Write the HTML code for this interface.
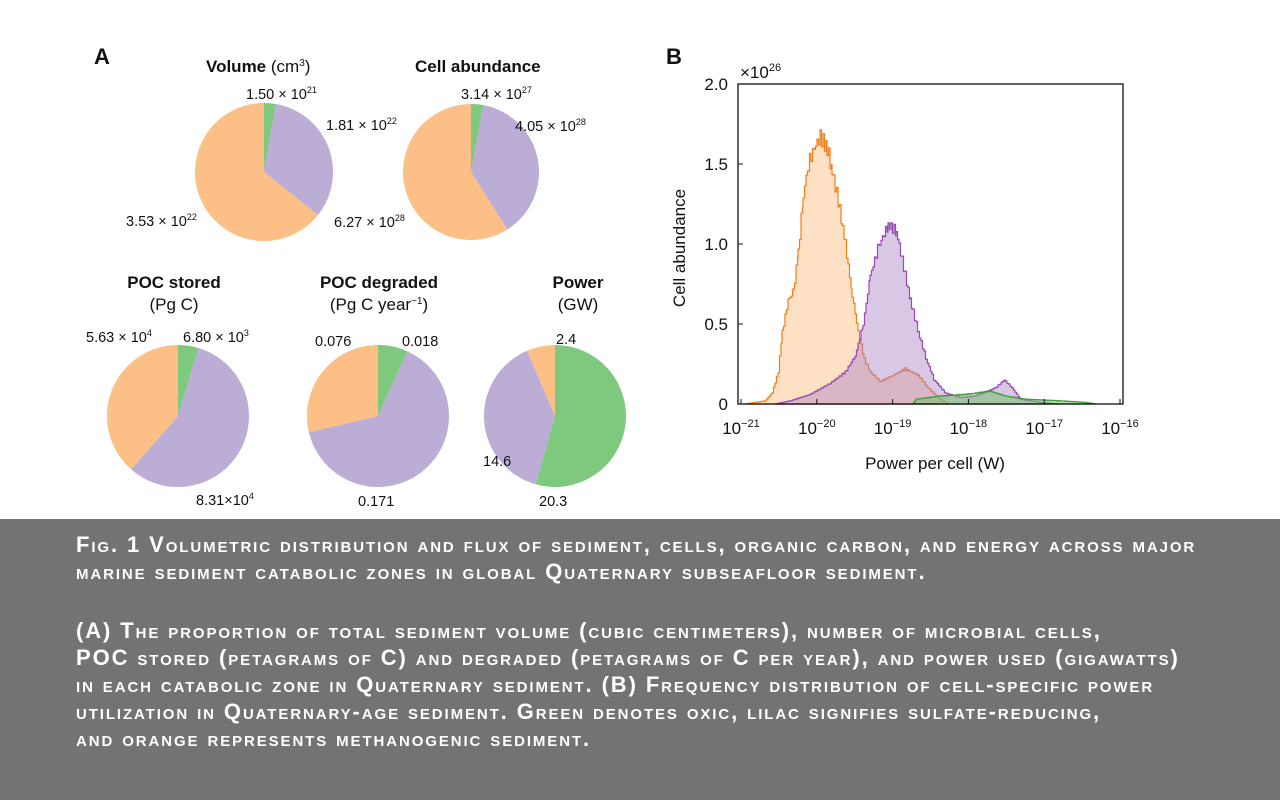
<!DOCTYPE html>
<html><head><meta charset="utf-8"><style>
body{margin:0;width:1280px;height:800px;background:#fff;position:relative;overflow:hidden;font-family:"Liberation Sans",Arial,sans-serif}
#cap{position:absolute;left:0;top:519px;width:1280px;height:281px;background:#737373;color:#fff}
#cap div{position:absolute;left:76px;font-size:22px;font-variant:small-caps;font-weight:bold;letter-spacing:1.9px;white-space:nowrap;font-family:"Liberation Sans Narrow","Liberation Sans",sans-serif}
</style></head><body>
<svg id="s" width="1280" height="519" style="position:absolute;left:0;top:0" font-family="Liberation Sans, Arial, sans-serif"></svg>
<div id="cap">
<div style="top:13px">Fig. 1 Volumetric distribution and flux of sediment, cells, organic carbon, and energy across major</div>
<div style="top:40px">marine sediment catabolic zones in global Quaternary subseafloor sediment.</div>
<div style="top:99px">(A) The proportion of total sediment volume (cubic centimeters), number of microbial cells,</div>
<div style="top:126px">POC stored (petagrams of C) and degraded (petagrams of C per year), and power used (gigawatts)</div>
<div style="top:153px">in each catabolic zone in Quaternary sediment. (B) Frequency distribution of cell-specific power</div>
<div style="top:180px">utilization in Quaternary-age sediment. Green denotes oxic, lilac signifies sulfate-reducing,</div>
<div style="top:207px">and orange represents methanogenic sediment.</div>
</div>
<script>
const G='#7fc97f',L='#bbadd6',O='#fcc086';
let h='';
function pie(cx,cy,r,vals){let t=vals.reduce((a,b)=>a+b[0],0),a=0;
for(const [v,c] of vals){let a2=a+v/t*2*Math.PI;
let x1=cx+r*Math.sin(a),y1=cy-r*Math.cos(a),x2=cx+r*Math.sin(a2),y2=cy-r*Math.cos(a2);
h+=`<path d="M${cx},${cy}L${x1},${y1}A${r},${r} 0 ${a2-a>Math.PI?1:0} 1 ${x2},${y2}Z" fill="${c}"/>`;a=a2;}}
function tx(x,y,s,o={}){h+=`<text x="${x}" y="${y}" font-size="${o.fs||14.5}" ${o.b?'font-weight="bold"':''} text-anchor="${o.a||'start'}" fill="#111">${s}</text>`}
const sup=e=>`<tspan font-size="9" dy="-6">${e}</tspan>`;
tx(94,64,'A',{fs:22,b:1});tx(666,64,'B',{fs:22,b:1});
pie(264,172,69,[[1.5e21,G],[1.81e22,L],[3.53e22,O]]);
pie(471,172,68,[[3.14e27,G],[4.05e28,L],[6.27e28,O]]);
pie(178,416,71,[[6.8e3,G],[8.31e4,L],[5.63e4,O]]);
pie(378,416,71,[[0.018,G],[0.171,L],[0.076,O]]);
pie(555,416,71,[[20.3,G],[14.6,L],[2.4,O]]);
tx(206,72,'Volume <tspan font-weight="normal">(cm</tspan><tspan font-weight="normal" font-size="10" dy="-6">3</tspan><tspan font-weight="normal" dy="6">)</tspan>',{fs:17,b:1});
tx(415,72,'Cell abundance',{fs:17,b:1});
tx(246,99,'1.50 × 10'+sup(21));tx(326,130,'1.81 × 10'+sup(22));tx(126,226,'3.53 × 10'+sup(22));
tx(461,99,'3.14 × 10'+sup(27));tx(515,131,'4.05 × 10'+sup(28));tx(334,227,'6.27 × 10'+sup(28));
tx(174,288,'POC stored',{fs:17,b:1,a:'middle'});tx(174,310,'(Pg C)',{fs:17,a:'middle'});
tx(379,288,'POC degraded',{fs:17,b:1,a:'middle'});tx(379,310,'(Pg C year<tspan font-size="10" dy="-6">−1</tspan><tspan dy="6">)</tspan>',{fs:17,a:'middle'});
tx(578,288,'Power',{fs:17,b:1,a:'middle'});tx(578,310,'(GW)',{fs:17,a:'middle'});
tx(86,342,'5.63 × 10'+sup(4));tx(183,342,'6.80 × 10'+sup(3));tx(196,505,'8.31×10'+sup(4));
tx(315,346,'0.076');tx(402,346,'0.018');tx(358,506,'0.171');
tx(556,344,'2.4');tx(483,466,'14.6');tx(539,506,'20.3');
const X0=738,Y0=404,K=160;
function area(pts,fill,stroke){let d=`M${pts[0][0]},${Y0}`;
let sp=[];for(let i=0;i<pts.length-1;i++){let [xa,va]=pts[i],[xb,vb]=pts[i+1];for(let x=xa;x<xb;x+=1.5){let v=va+(vb-va)*(x-xa)/(xb-xa);v*=1+0.03*Math.sin(x*2.3);sp.push([x,v]);}}
sp.push(pts[pts.length-1]);
for(let i=0;i<sp.length;i++){let y=Y0-sp[i][1]*K;d+=`L${sp[i][0]},${y}`;if(i<sp.length-1)d+=`L${sp[i+1][0]},${y}`;}
d+=`L${sp[sp.length-1][0]},${Y0}Z`;
h+=`<path d="${d}" fill="${fill}" stroke="${stroke}" stroke-width="1.2"/>`;}
area([[745,0],[765,0.02],[772,0.07],[778,0.2],[782,0.45],[788,0.65],[793,0.7],[798,0.95],[803,1.3],[808,1.5],[814,1.6],[820,1.67],[827,1.6],[832,1.45],[838,1.27],[845,1.0],[852,0.68],[858,0.45],[864,0.28],[870,0.2],[880,0.14],[893,0.18],[905,0.22],[918,0.18],[928,0.1],[938,0.04],[948,0]],'rgba(253,200,150,0.55)','#f07f1a');
area([[775,0],[790,0.02],[810,0.06],[830,0.13],[845,0.2],[855,0.3],[863,0.5],[870,0.8],[878,0.98],[888,1.12],[896,1.08],[902,0.9],[910,0.65],[918,0.45],[926,0.28],[934,0.15],[945,0.07],[960,0.04],[975,0.05],[995,0.1],[1004,0.15],[1012,0.1],[1020,0.03],[1040,0.01],[1060,0]],'rgba(170,130,200,0.45)','#9b4bb0');
area([[912,0],[916,0.03],[940,0.05],[965,0.06],[990,0.08],[1005,0.05],[1025,0.03],[1060,0.02],[1085,0.01],[1095,0]],'rgba(120,190,110,0.55)','#3f9a3a');
h+=`<rect x="${X0}" y="84" width="385" height="320" fill="none" stroke="#111" stroke-width="1.3"/>`;
for(let i=0;i<=4;i++){let y=Y0-i*0.5*K;h+=`<line x1="${X0}" x2="${X0+5}" y1="${y}" y2="${y}" stroke="#111"/>`;tx(728,y+6,['0','0.5','1.0','1.5','2.0'][i],{fs:17,a:'end'});}
for(let i=0;i<6;i++){let x=741+i*75.8;h+=`<line x1="${x}" x2="${x}" y1="${Y0}" y2="${Y0-5}" stroke="#111"/>`;tx(x,434,'10'+`<tspan font-size="11" dy="-7">−${21-i}</tspan>`,{fs:17,a:'middle'});}
tx(740,78,'×10<tspan font-size="11" dy="-7">26</tspan>',{fs:17});
tx(935,469,'Power per cell (W)',{fs:17,a:'middle'});
h+=`<text transform="translate(685,248) rotate(-90)" font-size="17" text-anchor="middle" fill="#111">Cell abundance</text>`;
document.getElementById('s').innerHTML=h;
</script>
</body></html>
